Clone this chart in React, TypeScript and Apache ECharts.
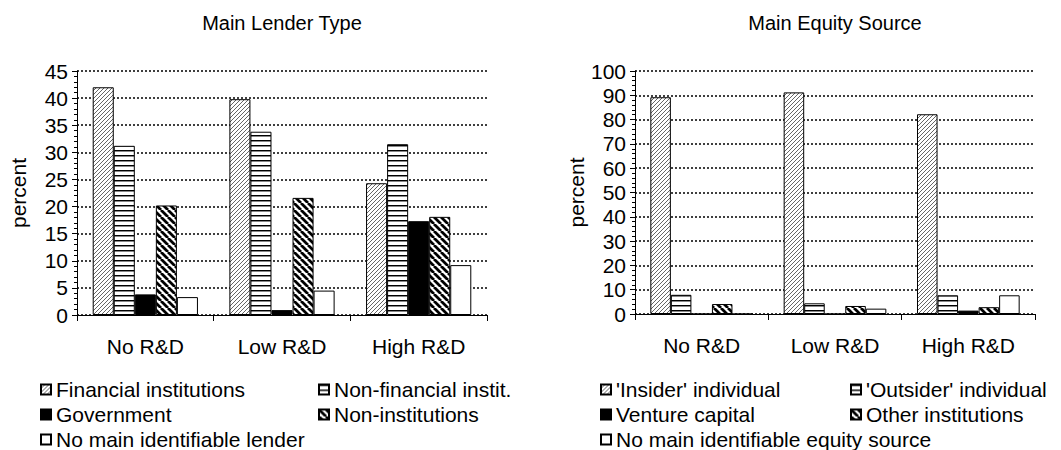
import React, { useEffect, useRef } from 'react';
import * as echarts from 'echarts';

const categories = ['No R&D', 'Low R&D', 'High R&D'];

const lenderTitle = 'Main Lender Type';
const lenderNames = ['Financial institutions', 'Non-financial instit.', 'Government', 'Non-institutions', 'No main identifiable lender'];
const financialInst = [42.0, 39.8, 24.3];
const nonFinancialInst = [31.2, 33.8, 31.5];
const government = [3.8, 0.9, 17.3];
const nonInstitutions = [20.2, 21.6, 18.1];
const noMainLender = [3.3, 4.5, 9.2];
const lenderAxis = { min: 0, max: 45, interval: 5 };

const equityTitle = 'Main Equity Source';
const equityNames = ["'Insider' individual", "'Outsider' individual", 'Venture capital', 'Other institutions', 'No main identifiable equity source'];
const insiderIndividual = [89.2, 91.2, 82.2];
const outsiderIndividual = [7.9, 4.4, 7.7];
const ventureCapital = [0, 0, 1.4];
const otherInstitutions = [4.1, 3.3, 2.8];
const noMainEquity = [0, 2.2, 7.7];
const equityAxis = { min: 0, max: 100, interval: 10 };

const yName = 'percent';
const FONT = "'Liberation Sans', Arial, sans-serif";

function makePattern(w: number, h: number, draw: (ctx: CanvasRenderingContext2D) => void) {
  const c = document.createElement('canvas');
  c.width = w;
  c.height = h;
  const ctx = c.getContext('2d') as CanvasRenderingContext2D;
  ctx.fillStyle = '#ffffff';
  ctx.fillRect(0, 0, w, h);
  draw(ctx);
  return { image: c.toDataURL(), repeat: 'repeat', imageWidth: w, imageHeight: h };
}

function buildFills() {
  const hatch = makePattern(4, 4, (ctx) => {
    ctx.strokeStyle = '#555';
    ctx.lineWidth = 0.9;
    ctx.beginPath();
    for (let k = -4; k <= 8; k += 4) {
      ctx.moveTo(k, 4);
      ctx.lineTo(k + 4, 0);
    }
    ctx.stroke();
  });
  const horiz = makePattern(4, 5, (ctx) => {
    ctx.fillStyle = '#000';
    ctx.fillRect(0, 0, 4, 1);
    ctx.fillStyle = '#888';
    ctx.fillRect(0, 1, 4, 1);
  });
  const thick = makePattern(7, 7, (ctx) => {
    ctx.strokeStyle = '#000';
    ctx.lineWidth = 2.8;
    ctx.beginPath();
    for (let k = -7; k <= 7; k += 7) {
      ctx.moveTo(k, 0);
      ctx.lineTo(k + 7, 7);
    }
    ctx.stroke();
  });
  return [hatch, horiz, '#000000', thick, '#ffffff'];
}

export default function App() {
  const ref = useRef<HTMLDivElement>(null);

  useEffect(() => {
    if (!ref.current) return;
    const chart = echarts.init(ref.current, null, { renderer: 'svg' });
    const fills = buildFills();

    const lenderData = [financialInst, nonFinancialInst, government, nonInstitutions, noMainLender];
    const equityData = [insiderIndividual, outsiderIndividual, ventureCapital, otherInstitutions, noMainEquity];

    const mkSeries = (names: string[], data: number[][], idx: number) =>
      names.map((name, i) => ({
        name,
        type: 'bar',
        xAxisIndex: idx,
        yAxisIndex: idx,
        data: data[i],
        barGap: '0%',
        barCategoryGap: '23%',
        silent: true,
        itemStyle: { color: fills[i], borderColor: '#000', borderWidth: 1 },
        emphasis: { disabled: true },
      }));

    const xAxisCfg = (idx: number) => ({
      type: 'category',
      gridIndex: idx,
      data: categories,
      axisLine: { show: true, lineStyle: { color: '#000', width: 1 } },
      axisTick: { show: true, alignWithLabel: false, length: 6, lineStyle: { color: '#000' } },
      axisLabel: { margin: 21, fontSize: 21, color: '#000', fontFamily: FONT },
    });

    const yAxisCfg = (idx: number, ax: { min: number; max: number; interval: number }, gap: number) => ({
      type: 'value',
      gridIndex: idx,
      min: ax.min,
      max: ax.max,
      interval: ax.interval,
      name: yName,
      nameLocation: 'middle',
      nameGap: gap,
      nameTextStyle: { fontSize: 21, color: '#000', fontFamily: FONT },
      axisLine: { show: true, lineStyle: { color: '#000', width: 1 } },
      axisTick: { show: true, length: 5, lineStyle: { color: '#000' } },
      minorTick: { show: true, splitNumber: 5, length: 3, lineStyle: { color: '#000' } },
      axisLabel: { margin: 9, fontSize: 21, color: '#000', fontFamily: FONT },
      splitLine: { show: true, lineStyle: { color: '#000', width: 1.5, type: [2, 2] } },
    });

    const legendPos = [
      { x: 40, row: 0 },
      { x: 318, row: 0 },
      { x: 40, row: 1 },
      { x: 318, row: 1 },
      { x: 40, row: 2 },
    ];
    const legendPosR = [
      { x: 600, row: 0 },
      { x: 850, row: 0 },
      { x: 600, row: 1 },
      { x: 850, row: 1 },
      { x: 600, row: 2 },
    ];
    const rowCenters = [390, 415, 440];
    const mkLegend = (name: string, x: number, row: number) => ({
      data: [name],
      left: x,
      top: rowCenters[row] - 11,
      padding: 0,
      itemWidth: 10,
      itemHeight: 10,
      itemTextGap: 5,
      icon: 'rect',
      selectedMode: false,
      textStyle: { fontSize: 21, color: '#000', fontFamily: FONT },
    });

    chart.setOption({
      animation: false,
      backgroundColor: '#ffffff',
      textStyle: { fontFamily: FONT },
      title: [
        { text: lenderTitle, left: 282, top: 13, textAlign: 'center', padding: 0, textStyle: { fontSize: 20, fontWeight: 'normal', color: '#000', fontFamily: FONT } },
        { text: equityTitle, left: 835, top: 13, textAlign: 'center', padding: 0, textStyle: { fontSize: 20, fontWeight: 'normal', color: '#000', fontFamily: FONT } },
      ],
      grid: [
        { left: 77, top: 71, width: 410, height: 244 },
        { left: 635, top: 71, width: 400, height: 243 },
      ],
      xAxis: [xAxisCfg(0), xAxisCfg(1)],
      yAxis: [yAxisCfg(0, lenderAxis, 48), yAxisCfg(1, equityAxis, 46)],
      legend: [
        ...lenderNames.map((n, i) => mkLegend(n, legendPos[i].x, legendPos[i].row)),
        ...equityNames.map((n, i) => mkLegend(n, legendPosR[i].x, legendPosR[i].row)),
      ],
      series: [...mkSeries(lenderNames, lenderData, 0), ...mkSeries(equityNames, equityData, 1)],
    });

    return () => chart.dispose();
  }, []);

  return <div ref={ref} style={{ position: 'fixed', left: 0, top: 0, width: 1061, height: 450 }} />;
}
